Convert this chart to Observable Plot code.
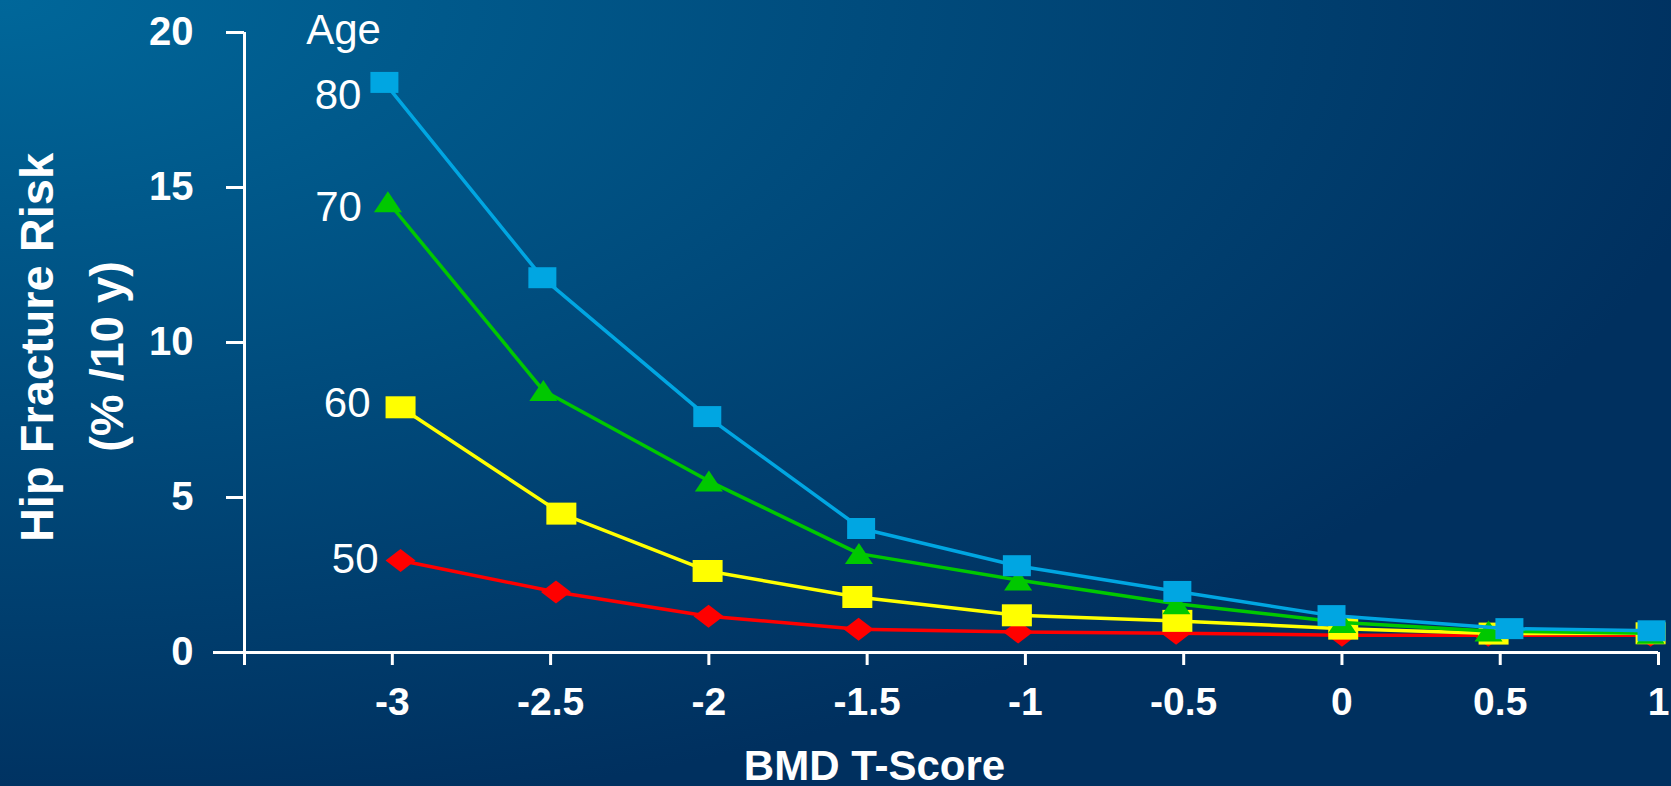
<!DOCTYPE html>
<html>
<head>
<meta charset="utf-8">
<script src="https://cdn.jsdelivr.net/npm/d3@7"></script>
<script src="https://cdn.jsdelivr.net/npm/@observablehq/plot@0.6"></script>
<style>
  html, body { margin: 0; padding: 0; }
  body {
    width: 1671px; height: 786px; overflow: hidden; position: relative;
    background: radial-gradient(ellipse 1750px 830px at 0px 0px, #00679A 0%, #00305F 100%);
    font-family: "Liberation Sans", Arial, sans-serif;
  }
  #chart { position: absolute; left: 0; top: 0; }
</style>
</head>
<body>
<div id="chart"></div>
<script>
// ---- data ----
const ages = ["50", "60", "70", "80"];
const seriesColors = ["#FF0000", "#FFFF00", "#00C800", "#00A6E2"];

const tScore50 = [-2.974, -2.483, -2.001, -1.527, -1.023, -0.524, 0.000, 0.462, 0.975];
const risk50   = [2.97, 1.95, 1.17, 0.75, 0.66, 0.62, 0.56, 0.56, 0.56];

const tScore60 = [-2.974, -2.466, -2.004, -1.531, -1.027, -0.520, 0.004, 0.479, 0.975];
const risk60   = [7.91, 4.48, 2.63, 1.79, 1.20, 1.02, 0.77, 0.61, 0.62];

const tScore70 = [-3.014, -2.523, -2.000, -1.526, -1.023, -0.523, 0.001, 0.463, 0.975];
const risk70   = [14.54, 8.45, 5.53, 3.19, 2.34, 1.57, 0.97, 0.69, 0.62];

const tScore80 = [-3.025, -2.526, -2.005, -1.519, -1.027, -0.520, -0.033, 0.529, 0.978];
const risk80   = [18.39, 12.09, 7.61, 4.00, 2.80, 1.97, 1.19, 0.77, 0.70];

const xTicks = [-3, -2.5, -2, -1.5, -1, -0.5, 0, 0.5, 1];
const yTicks = [0, 5, 10, 15, 20];
const xMin = -3.467;
const xMax = 1;

const xTitle = "BMD T-Score";
const yTitleLines = ["Hip Fracture Risk", "(% /10 y)"];
const legendTitle = "Age";

// ---- build tables ----
const tScores = [tScore50, tScore60, tScore70, tScore80];
const risks = [risk50, risk60, risk70, risk80];
const series = ages.map((age, s) =>
  tScores[s].map((t, i) => ({age, t, risk: risks[s][i]}))
);

// marker shapes (wide, like the reference)
const rectSym = (w, h) => ({draw(ctx) { ctx.rect(-w / 2, -h / 2, w, h); }});
const triSym = (w, h) => ({draw(ctx) { ctx.moveTo(0, -h / 2); ctx.lineTo(w / 2, h / 2); ctx.lineTo(-w / 2, h / 2); ctx.closePath(); }});
const diaSym = (w, h) => ({draw(ctx) { ctx.moveTo(0, -h / 2); ctx.lineTo(w / 2, 0); ctx.lineTo(0, h / 2); ctx.lineTo(-w / 2, 0); ctx.closePath(); }});
const symbols = [diaSym(30, 23), rectSym(30, 22), triSym(28, 21), rectSym(28, 21)];

// label offsets relative to each series' first point
const labelOffsets = [[-22, -1], [-30, -4], [-26, 6], [-23, 13]];

const font = "Liberation Sans, Arial, sans-serif";
const marks = [];

// axes lines
marks.push(Plot.ruleY([0], {stroke: "white", strokeWidth: 3}));
marks.push(Plot.ruleX([xMin], {stroke: "white", strokeWidth: 3}));
marks.push(Plot.axisY({
  ticks: yTicks, tickSize: 18, tickPadding: 33, strokeWidth: 3, label: null,
  fontSize: 40, fontWeight: "bold", fontFamily: font, fill: "white", stroke: "white"
}));
marks.push(Plot.axisY({ticks: [0], tickSize: 31, tickFormat: () => "", strokeWidth: 3, label: null, stroke: "white"}));
marks.push(Plot.axisX({
  ticks: [xMin, ...xTicks], tickSize: 13, tickPadding: 22, strokeWidth: 3, label: null,
  tickFormat: d => (d === xMin ? "" : String(d)),
  fontSize: 39, fontWeight: "bold", fontFamily: font, fill: "white", stroke: "white"
}));

// series: red (bottom) -> blue (top)
series.forEach((data, s) => {
  marks.push(Plot.line(data, {x: "t", y: "risk", stroke: seriesColors[s], strokeWidth: 3.5}));
  marks.push(Plot.dot(data, {x: "t", y: "risk", fill: seriesColors[s], stroke: "none", symbol: symbols[s], r: 12}));
});

// age labels
series.forEach((data, s) => {
  marks.push(Plot.text([data[0]], {
    x: "t", y: "risk", text: "age", textAnchor: "end", lineAnchor: "middle",
    dx: labelOffsets[s][0], dy: labelOffsets[s][1],
    fill: "white", fontSize: 42, fontFamily: font
  }));
});
marks.push(Plot.text([legendTitle], {
  frameAnchor: "top-left", text: d => d, dx: 99, dy: -2, textAnchor: "middle", lineAnchor: "middle",
  fill: "white", fontSize: 42, fontFamily: font
}));

// axis titles
marks.push(Plot.text([xTitle], {
  frameAnchor: "bottom", text: d => d, dx: -77, dy: 114, textAnchor: "middle", lineAnchor: "middle",
  fill: "white", fontSize: 42, fontWeight: "bold", fontFamily: font
}));
const yTitleDx = [-207, -137];
const yTitleDy = [5, 14];
yTitleLines.forEach((line, k) => {
  marks.push(Plot.text([line], {
    frameAnchor: "left", text: d => d, dx: yTitleDx[k], dy: yTitleDy[k], rotate: -90,
    textAnchor: "middle", lineAnchor: "middle",
    fill: "white", fontSize: 47, fontWeight: "bold", fontFamily: font,
    letterSpacing: k === 1 ? "6px" : null
  }));
});

const chart = Plot.plot({
  width: 1671, height: 786,
  marginLeft: 244, marginRight: 13, marginTop: 32, marginBottom: 134,
  x: {domain: [xMin, xMax]},
  y: {domain: [0, 20]},
  style: {background: "transparent", color: "white", fontFamily: font, overflow: "visible"},
  marks
});
document.getElementById("chart").appendChild(chart);
</script>
</body>
</html>
